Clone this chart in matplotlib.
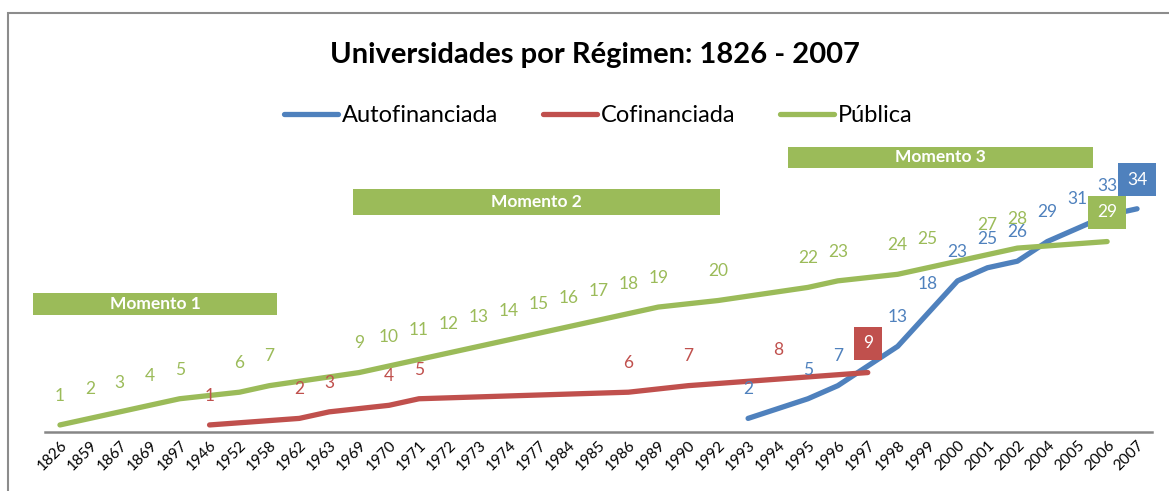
import numpy as np
import matplotlib.pyplot as plt
from matplotlib.patches import Rectangle

plt.rcParams['font.family'] = ['Lato', 'DejaVu Sans']

# Categories (years) on the x axis
years = ['1826', '1859', '1867', '1869', '1897', '1946', '1952', '1958', '1962', '1963',
         '1969', '1970', '1971', '1972', '1973', '1974', '1977', '1984', '1985', '1986',
         '1989', '1990', '1992', '1993', '1994', '1995', '1996', '1997', '1998', '1999',
         '2000', '2001', '2002', '2004', '2005', '2006', '2007']

N = None
# cumulative number of universities (blank = no data point, line is joined)
autofinanciada = [N, N, N, N, N, N, N, N, N, N,
                  N, N, N, N, N, N, N, N, N, N,
                  N, N, N, 2, N, 5, 7, N, 13, 18,
                  23, 25, 26, 29, 31, 33, 34]
cofinanciada = [N, N, N, N, N, 1, N, N, 2, 3,
                N, 4, 5, N, N, N, N, N, N, 6,
                N, 7, N, N, 8, N, N, 9, N, N,
                N, N, N, N, N, N, N]
publica = [1, 2, 3, 4, 5, N, 6, 7, N, N,
           9, 10, 11, 12, 13, 14, 15, 16, 17, 18,
           19, N, 20, N, N, 22, 23, N, 24, 25,
           N, 27, 28, N, N, 29, N]

series = [('Autofinanciada', autofinanciada, '#4F81BD'),
          ('Cofinanciada', cofinanciada, '#C0504D'),
          ('Pública', publica, '#9BBB59')]

moments = ['Momento 1', 'Momento 2', 'Momento 3']

W, H = 1169, 491
fig = plt.figure(figsize=(W / 100, H / 100), dpi=100)
ax = fig.add_axes([45 / W, 1 - 431.5 / H, (1152 - 45) / W, (431.5 - 169.5) / H])

x = np.arange(len(years))
for name, vals, col in series:
    v = np.array([np.nan if a is None else a for a in vals], dtype=float)
    m = ~np.isnan(v)
    ax.plot(x[m], v[m], color=col, lw=3.8, solid_capstyle='round', label=name)
    idx = np.where(m)[0]
    for k, i in enumerate(idx):
        last = k == len(idx) - 1
        ax.annotate('{:g}'.format(v[i]), (x[i], v[i]), xytext=(0, 21),
                    textcoords='offset points', ha='center', va='center',
                    fontsize=12.5, color='white' if last else col,
                    bbox=dict(boxstyle='square,pad=0.5', fc=col, ec='none') if last else None)

ax.set_xlim(-0.5, len(years) - 0.5)
ax.set_ylim(0, 40)
ax.set_xticks(x)
ax.set_xticklabels(years, rotation=45, ha='right', rotation_mode='anchor', fontsize=11)
ax.tick_params(axis='x', length=0, pad=5)
ax.set_yticks([])
for s in ['top', 'right', 'left']:
    ax.spines[s].set_visible(False)
ax.spines['bottom'].set_color('#868686')
ax.spines['bottom'].set_linewidth(1.8)

fig.text(595 / W, 1 - 55 / H, 'Universidades por Régimen: 1826 - 2007',
         ha='center', va='center', fontsize=21, fontweight='bold')

fig.legend(loc='center', bbox_to_anchor=(598 / W, 1 - 116 / H), ncol=3, frameon=False,
           fontsize=17, handlelength=2.3, columnspacing=1.9, handletextpad=0.15)

# "Momento" boxes (pixel extents of the reference)
boxes = [(33, 277, 293, 315), (353, 720, 189, 215), (788, 1093, 147, 168)]
for label, (x0, x1, y0, y1) in zip(moments, boxes):
    fig.add_artist(Rectangle((x0 / W, 1 - y1 / H), (x1 - x0) / W, (y1 - y0) / H,
                             transform=fig.transFigure, fc='#9BBB59', ec='none'))
    fig.text((x0 + x1) / 2 / W, 1 - (y0 + y1) / 2 / H, label, ha='center', va='center',
             color='white', fontsize=12.5, fontweight='bold')

# chart border
fig.add_artist(Rectangle((8 / W, -0.1), 1.2, 1 - 13 / H + 0.1, transform=fig.transFigure,
                         fill=False, ec='#8C8C8C', lw=1.5))

fig.savefig('out.png', dpi=100)
